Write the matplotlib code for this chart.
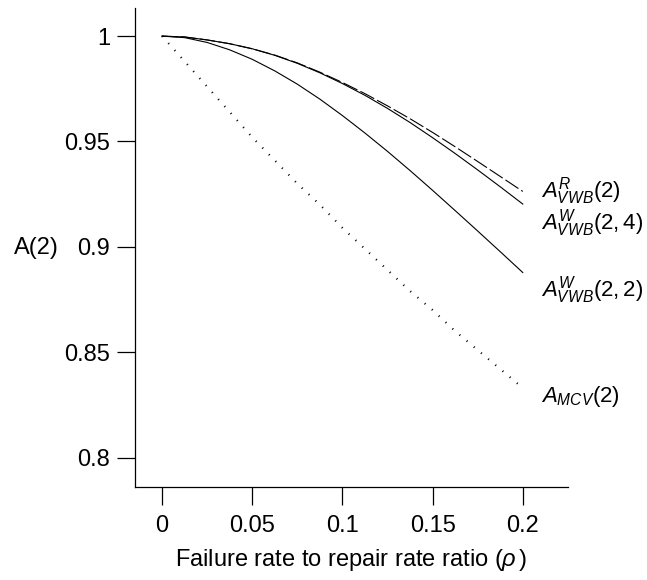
import numpy as np
import matplotlib.pyplot as plt

plt.rcParams['font.family'] = ['Liberation Sans', 'DejaVu Sans']
plt.rcParams['mathtext.fontset'] = 'custom'
plt.rcParams['mathtext.rm'] = 'Liberation Sans'
plt.rcParams['mathtext.it'] = 'Liberation Sans:italic'

# values
rho = [0, 0.0125, 0.025, 0.0375, 0.05, 0.0625, 0.075, 0.0875, 0.1,
       0.1125, 0.125, 0.1375, 0.15, 0.1625, 0.175, 0.1875, 0.2]
a_mcv = [1.0, 0.988, 0.976, 0.964, 0.952, 0.941, 0.930, 0.920, 0.909,
         0.899, 0.889, 0.879, 0.870, 0.860, 0.851, 0.842, 0.833]
a_w22 = [1.0, 0.9993, 0.997, 0.9935, 0.989, 0.9835, 0.9772, 0.9701, 0.9623,
         0.954, 0.9453, 0.9362, 0.9268, 0.9172, 0.9075, 0.8977, 0.8878]
a_w24 = [1.0, 0.9996, 0.9982, 0.9964, 0.994, 0.9909, 0.9871, 0.9826, 0.9775,
         0.9719, 0.9657, 0.959, 0.9518, 0.9443, 0.9365, 0.9285, 0.9203]
a_r = [1.0, 0.9996, 0.9982, 0.9964, 0.994, 0.991, 0.9873, 0.9829, 0.978,
       0.9727, 0.9669, 0.9608, 0.9543, 0.9475, 0.9405, 0.9334, 0.9263]

xticks = [0, 0.05, 0.1, 0.15, 0.2]
xticklabels = ['0', '0.05', '0.1', '0.15', '0.2']
yticks = [0.8, 0.85, 0.9, 0.95, 1.0]
yticklabels = ['0.8', '0.85', '0.9', '0.95', '1']

fig = plt.figure(figsize=(6.47, 5.8), dpi=100)
ax = fig.add_axes([0.2087, 0.1603, 0.669, 0.8257])

lw = 0.8
ax.plot(rho, a_mcv, color='black', lw=1.5, linestyle=(0, (0.5, 4.0)))
ax.plot(rho, a_w22, color='black', lw=lw)
ax.plot(rho, a_w24, color='black', lw=lw)
ax.plot(rho, a_r, color='black', lw=lw, linestyle=(0, (14, 3)))

ax.set_xlim(-0.015, 0.225)
ax.set_ylim(0.786, 1.0133)
ax.set_xticks(xticks)
ax.set_xticklabels(xticklabels)
ax.set_yticks(yticks)
ax.set_yticklabels(yticklabels)

for s in ['top', 'right']:
    ax.spines[s].set_visible(False)
for s in ['left', 'bottom']:
    ax.spines[s].set_linewidth(0.9)
ax.tick_params(direction='out', length=13, width=0.9, labelsize=17)
ax.tick_params(axis='x', pad=7)
ax.tick_params(axis='y', pad=5)

ax.set_xlabel(r'Failure rate to repair rate ratio ($\rho\,$)', fontsize=17, labelpad=7)
ax.set_ylabel('A(2)', fontsize=17, rotation=0, labelpad=20, va='center')

lab_x = 0.2100
fs = 16
ax.text(lab_x, 0.9265, r'$A^{R}_{VWB}(2)$', fontsize=fs, va='center', ha='left')
ax.text(lab_x, 0.9115, r'$A^{W}_{VWB}(2,4)$', fontsize=fs, va='center', ha='left')
ax.text(lab_x, 0.8795, r'$A^{W}_{VWB}(2,2)$', fontsize=fs, va='center', ha='left')
ax.text(lab_x, 0.829, r'$A_{MCV}(2)$', fontsize=fs, va='center', ha='left')

fig.savefig('out.png', dpi=100)
